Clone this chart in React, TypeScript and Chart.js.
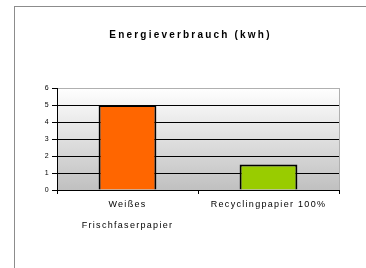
import React, { useEffect, useRef } from "react";
import { Chart, registerables } from "chart.js";

Chart.register(...registerables);

const title = "Energieverbrauch (kwh)";
const categories: string[][] = [["Weißes", "Frischfaserpapier"], ["Recyclingpapier 100%"]];
const values = [5, 1.5];
const barColors = ["#FF6600", "#99CC00"];
const yMax = 6;

const FONT = "'Liberation Sans', Arial, sans-serif";

const bgPlugin = {
  id: "bgPlugin",
  beforeDraw(chart: any) {
    const { ctx, chartArea } = chart;
    const { left, right, top, bottom } = chartArea;
    ctx.save();
    const g = ctx.createLinearGradient(0, top, 0, bottom);
    g.addColorStop(0, "#ffffff");
    g.addColorStop(1, "#c0c0c0");
    ctx.fillStyle = g;
    ctx.fillRect(left, top, right - left, bottom - top);
    ctx.strokeStyle = "#b0b0b0";
    ctx.lineWidth = 1;
    ctx.beginPath();
    ctx.moveTo(Math.round(right) + 0.5, top);
    ctx.lineTo(Math.round(right) + 0.5, bottom);
    ctx.stroke();
    ctx.restore();
    (ctx as any).letterSpacing = "1.3px";
  },
  afterDraw(chart: any) {
    const { ctx, width } = chart;
    ctx.save();
    (ctx as any).letterSpacing = "2.2px";
    ctx.font = `bold 10px ${FONT}`;
    ctx.fillStyle = "#000";
    ctx.textAlign = "center";
    ctx.textBaseline = "middle";
    ctx.fillText(title, width / 2, 28);
    ctx.restore();
    (ctx as any).letterSpacing = "0px";
  },
};

export default function App() {
  const ref = useRef<HTMLCanvasElement>(null);
  useEffect(() => {
    if (!ref.current) return;
    const chart = new Chart(ref.current, {
      type: "bar",
      data: {
        labels: categories,
        datasets: [
          {
            data: values,
            backgroundColor: barColors,
            borderColor: "#000",
            borderWidth: 2,
            barPercentage: 0.41,
            categoryPercentage: 1,
          },
        ],
      },
      options: {
        animation: false,
        responsive: false,
        maintainAspectRatio: false,
        devicePixelRatio: 1,
        layout: { padding: { top: 81, right: 27, left: 0, bottom: 0 } },
        plugins: {
          legend: { display: false },
          title: { display: false },
          tooltip: { enabled: false },
        },
        scales: {
          x: {
            afterFit: (s: any) => {
              s.height = 78;
            },
            border: { color: "#000", width: 1 },
            grid: {
              drawOnChartArea: false,
              offset: true,
              tickLength: 4,
              tickColor: "#000",
            },
            ticks: {
              color: "#000",
              padding: 0,
              font: { family: FONT, size: 9, lineHeight: 21 / 9 },
              maxRotation: 0,
            },
          },
          y: {
            min: 0,
            max: yMax,
            afterFit: (s: any) => {
              s.width = 42;
            },
            border: { color: "#000", width: 1 },
            grid: {
              color: (c: any) => (c.tick && c.tick.value === yMax ? "#b0b0b0" : "#000"),
              tickColor: "#000",
              tickLength: 5,
            },
            ticks: {
              stepSize: 1,
              color: "#000",
              padding: 2,
              font: { family: FONT, size: 7 },
            },
          },
        },
      },
      plugins: [bgPlugin],
    });
    return () => chart.destroy();
  }, []);

  return (
    <div style={{ position: "fixed", left: 0, top: 0, width: 366, height: 268, background: "#fff" }}>
      <div
        style={{
          position: "absolute",
          left: 14,
          top: 6,
          borderLeft: "1px solid #8c8c8c",
          borderTop: "1px solid #8c8c8c",
          width: 351,
          height: 261,
        }}
      >
        <canvas ref={ref} width={351} height={261} style={{ display: "block" }} />
      </div>
    </div>
  );
}
